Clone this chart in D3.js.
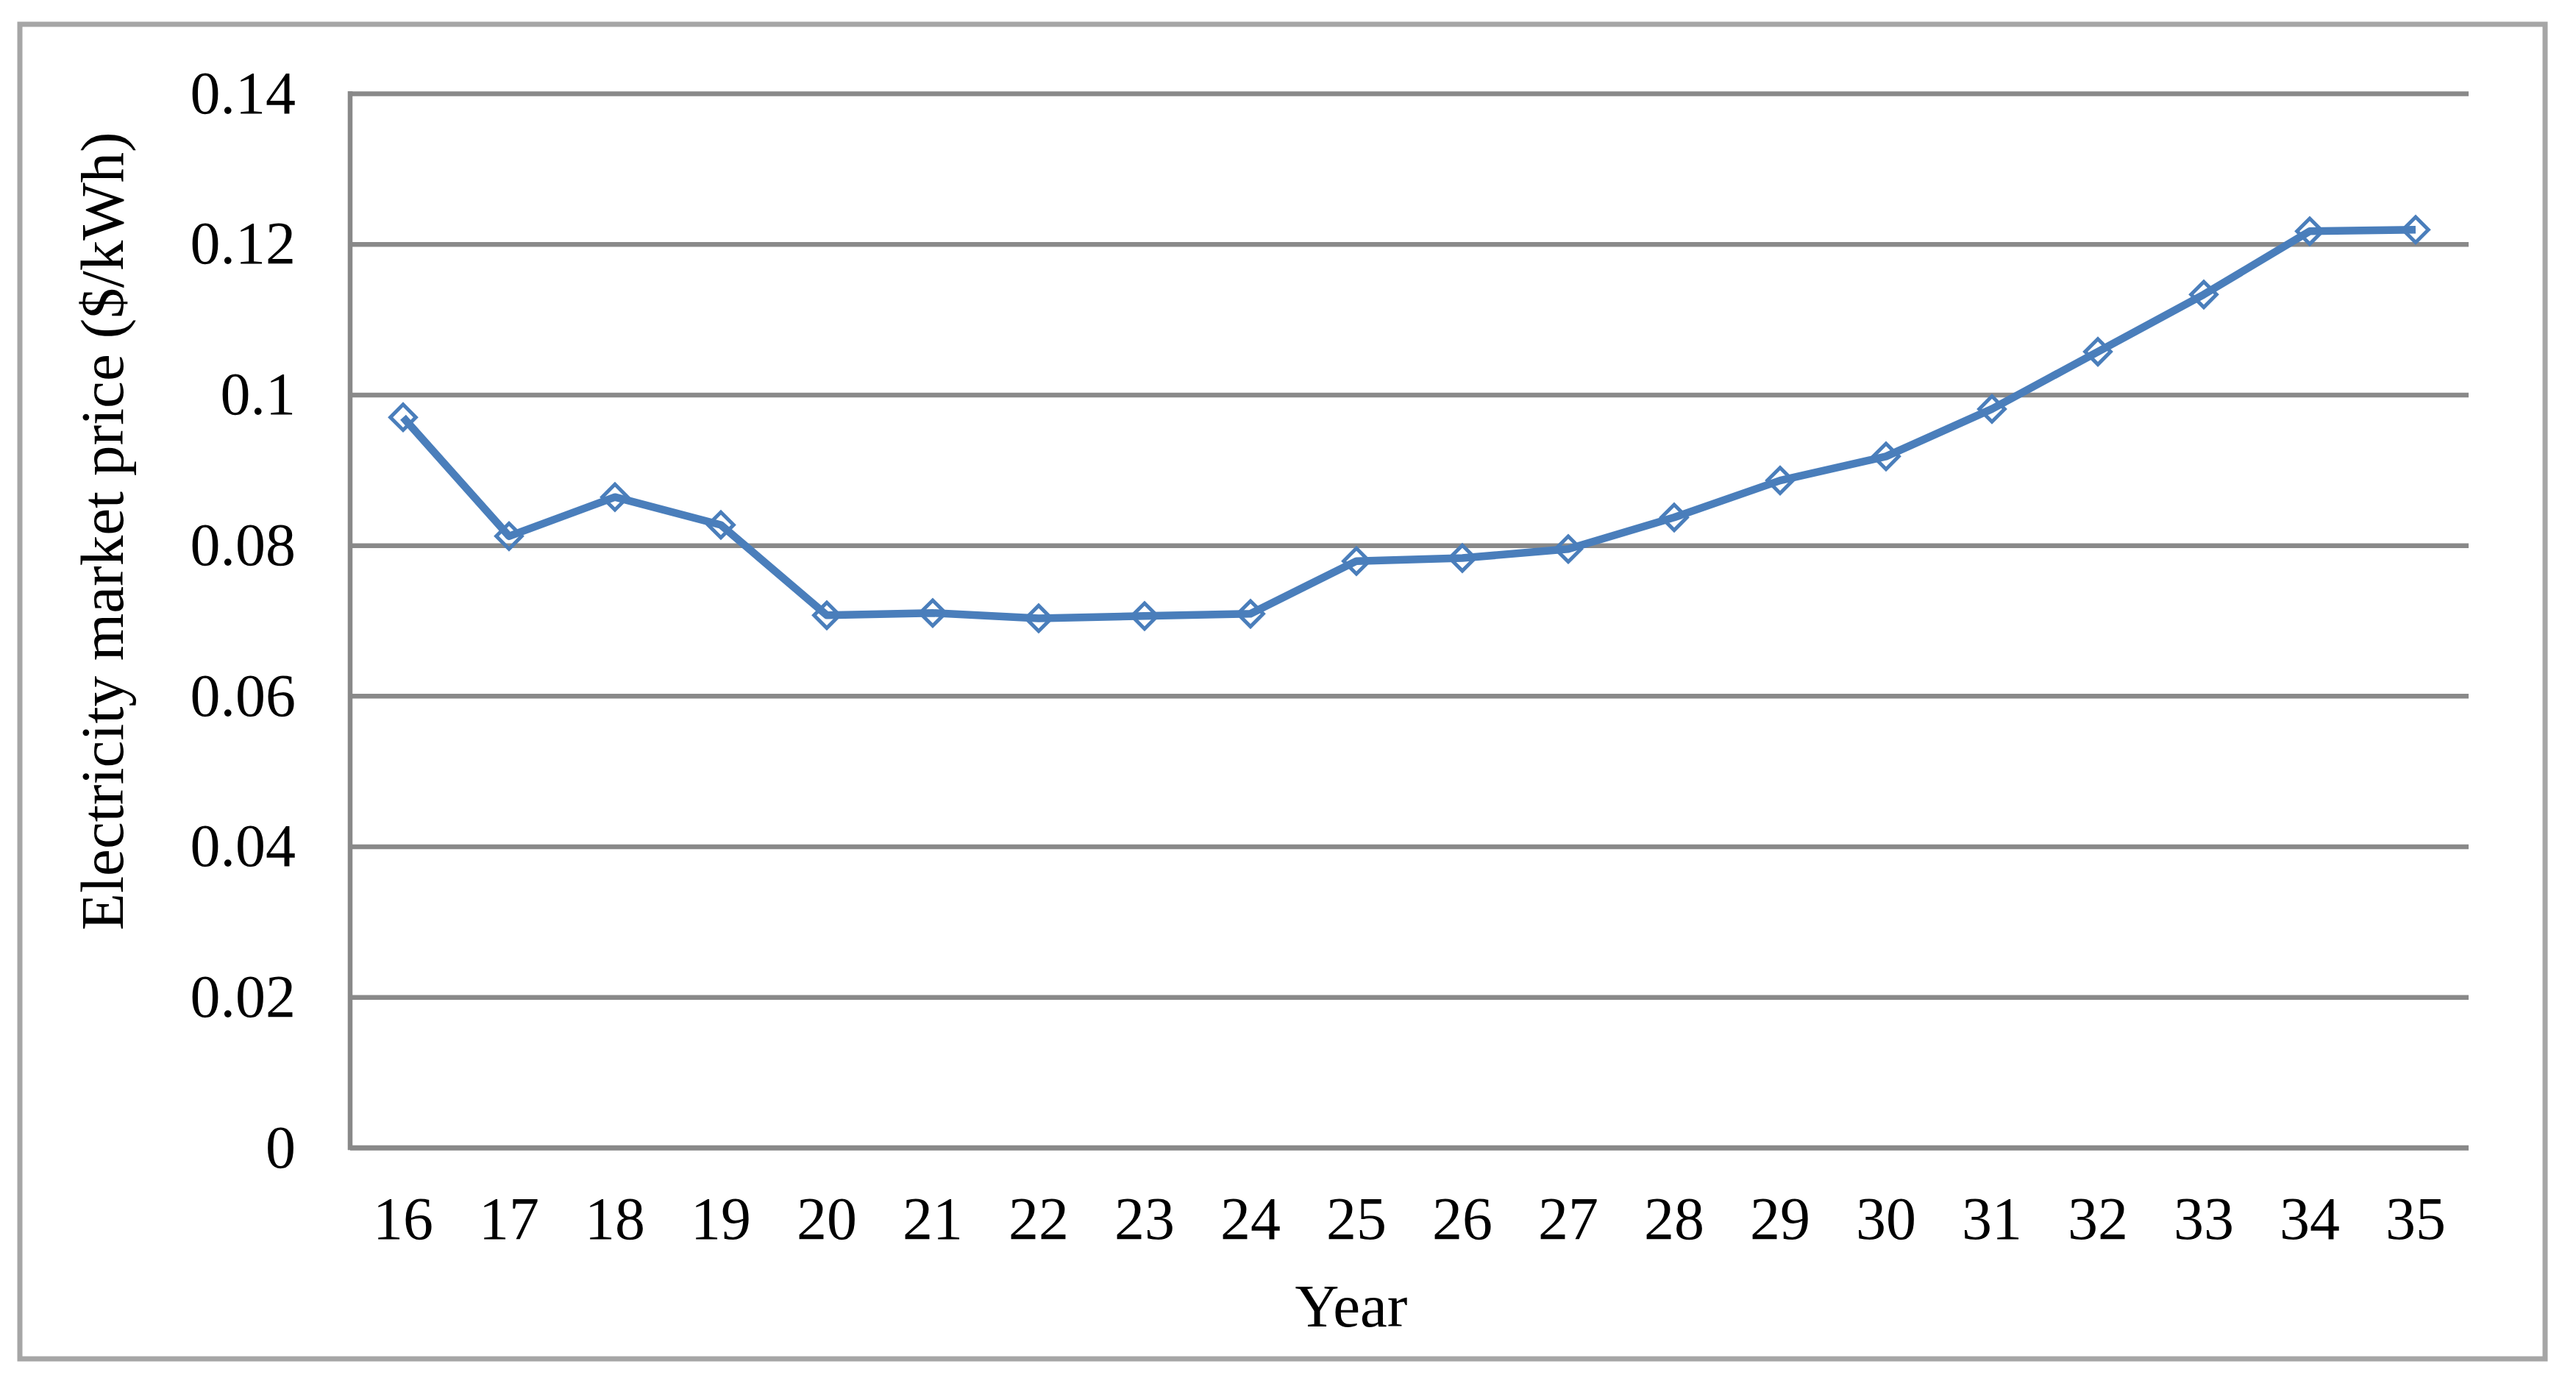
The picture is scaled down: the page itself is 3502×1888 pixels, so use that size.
<!DOCTYPE html>
<html>
<head>
<meta charset="utf-8">
<script src="https://cdn.jsdelivr.net/npm/d3@7"></script>
<style>
  html, body { margin: 0; padding: 0; background: #ffffff; }
  svg { display: block; }
  text { font-family: "Liberation Serif", "Times New Roman", serif; fill: #000; }
</style>
</head>
<body>
<svg id="chart" width="3502" height="1888"></svg>
<script>
// ---- data ----
const years = ["16","17","18","19","20","21","22","23","24","25","26","27","28","29","30","31","32","33","34","35"];
const prices = [0.0970, 0.0812, 0.0864, 0.0827, 0.0707, 0.0710, 0.0703, 0.0706, 0.0709, 0.0779,
                0.0783, 0.0795, 0.0837, 0.0886, 0.0918, 0.0981, 0.1057, 0.1133, 0.1217, 0.1219];
const yTicks = [0, 0.02, 0.04, 0.06, 0.08, 0.1, 0.12, 0.14];
const yTickLabels = ["0", "0.02", "0.04", "0.06", "0.08", "0.1", "0.12", "0.14"];
const xTitle = "Year";
const yTitle = "Electricity market price ($/kWh)";

// ---- layout ----
const plot = { left: 476, right: 3356, top: 127, bottom: 1560 };
const gridColor = "#898989";
const lineColor = "#4A7EBB";
const tickFont = 82;
const titleFont = 83;

const svg = d3.select("#chart");

svg.append("rect")
  .attr("x", 27).attr("y", 33)
  .attr("width", 3460 - 27).attr("height", 1847 - 33)
  .attr("fill", "#ffffff")
  .attr("stroke", "#a6a6a6").attr("stroke-width", 7);

const x = d3.scaleBand().domain(years).range([plot.left, plot.right]).padding(0);
const y = d3.scaleLinear().domain([0, 0.14]).range([plot.bottom, plot.top]);

// y axis with gridlines
const yAxis = d3.axisLeft(y)
  .tickValues(yTicks)
  .tickFormat((d, i) => yTickLabels[i])
  .tickSize(-(plot.right - plot.left))
  .tickPadding(74);

const gy = svg.append("g")
  .attr("transform", `translate(${plot.left},0)`)
  .call(yAxis);
gy.select(".domain").remove();
gy.selectAll(".tick line")
  .attr("stroke", gridColor).attr("stroke-width", 6.5);
gy.selectAll(".tick text")
  .attr("font-size", tickFont)
  .style("font-family", '"Liberation Serif", "Times New Roman", serif')
  .attr("fill", "#000");

// y axis line
svg.append("line")
  .attr("x1", plot.left).attr("x2", plot.left)
  .attr("y1", plot.top - 3).attr("y2", plot.bottom + 3)
  .attr("stroke", gridColor).attr("stroke-width", 6.5);

// x axis
const xAxis = d3.axisBottom(x).tickSize(0).tickPadding(66);
const gx = svg.append("g")
  .attr("transform", `translate(0,${plot.bottom})`)
  .call(xAxis);
gx.select(".domain").remove();
gx.selectAll(".tick text")
  .attr("font-size", tickFont)
  .style("font-family", '"Liberation Serif", "Times New Roman", serif')
  .attr("fill", "#000");

svg.append("line")
  .attr("x1", plot.left - 3).attr("x2", plot.right)
  .attr("y1", plot.bottom).attr("y2", plot.bottom)
  .attr("stroke", gridColor).attr("stroke-width", 6.5);

// line series
const line = d3.line()
  .x((d, i) => x(years[i]) + x.bandwidth() / 2)
  .y(d => y(d));

svg.append("path")
  .datum(prices)
  .attr("d", line)
  .attr("fill", "none")
  .attr("stroke", lineColor)
  .attr("stroke-width", 10.5)
  .attr("stroke-linejoin", "round");

// diamond markers
const sym = d3.symbol().type(d3.symbolSquare).size(600);
svg.append("g").selectAll("path")
  .data(prices)
  .join("path")
  .attr("d", sym)
  .attr("transform", (d, i) => `translate(${x(years[i]) + x.bandwidth() / 2},${y(d)}) rotate(45)`)
  .attr("fill", "none")
  .attr("stroke", lineColor)
  .attr("stroke-width", 5);

// axis titles
svg.append("text")
  .attr("x", 1837).attr("y", 1803)
  .attr("text-anchor", "middle")
  .attr("font-size", titleFont)
  .text(xTitle);

svg.append("text")
  .attr("transform", "translate(167,722) rotate(-90)")
  .attr("text-anchor", "middle")
  .attr("font-size", titleFont)
  .text(yTitle);
</script>
</body>
</html>
